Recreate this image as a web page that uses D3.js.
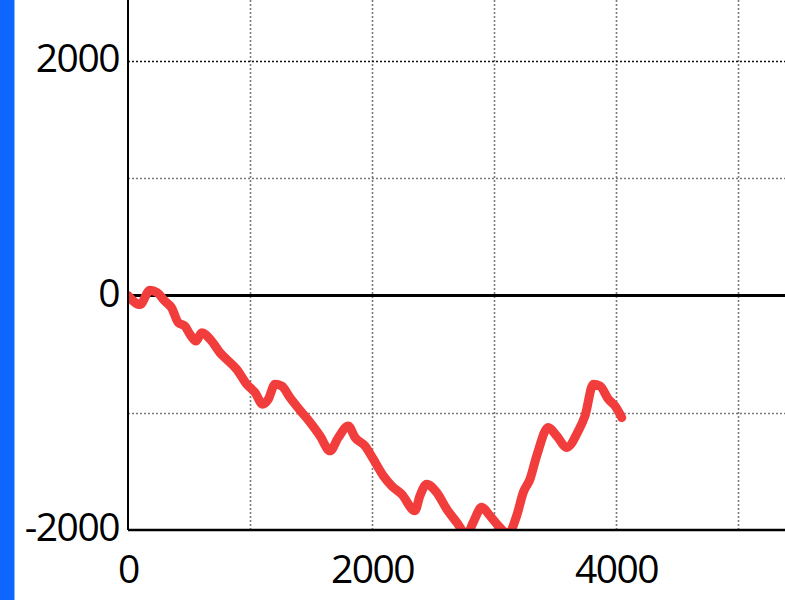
<!DOCTYPE html>
<html>
<head>
<meta charset="utf-8">
<script src="https://cdn.jsdelivr.net/npm/d3@7"></script>
<style>
  html, body { margin: 0; padding: 0; background: #fff; overflow: hidden; }
  svg { display: block; }
</style>
</head>
<body>
<svg id="chart" width="785" height="600"></svg>
<script>
// ---- data ----
const xValues = [0, 98, 180, 238, 303, 358, 412, 467, 508, 557, 604, 686, 754, 809, 891, 973, 1041, 1104, 1150, 1205, 1260, 1328, 1410, 1492, 1574, 1656, 1724, 1806, 1861, 1943, 2011, 2093, 2161, 2243, 2352, 2393, 2448, 2530, 2612, 2694, 2776, 2830, 2899, 2967, 3035, 3117, 3186, 3240, 3295, 3350, 3445, 3514, 3596, 3691, 3746, 3814, 3869, 3938, 3992, 4047];
const yValues = [0, -77, 45, 26, -49, -105, -232, -261, -332, -389, -317, -389, -488, -545, -630, -757, -828, -928, -885, -757, -772, -871, -979, -1081, -1197, -1325, -1211, -1112, -1211, -1283, -1396, -1538, -1623, -1694, -1836, -1708, -1609, -1679, -1821, -1934, -2040, -1934, -1807, -1878, -1963, -2030, -1878, -1679, -1566, -1368, -1126, -1197, -1296, -1155, -1027, -757, -772, -885, -942, -1041];
const xTicks = [0, 2000, 4000];
const yTicks = [-2000, 0, 2000];
const xGrid = [1000, 2000, 3000, 4000, 5000];
const yGrid = [-1000, 1000, 2000];

const svg = d3.select("#chart");
const W = 785, H = 600;

const x = d3.scaleLinear().domain([0, 5000]).range([128, 738]);
const y = d3.scaleLinear().domain([-2000, 2000]).range([530, 61]);
const fmt = d => String(d); // plain hyphen-minus like the reference

// blue bar at left
svg.append("rect").attr("x", 0).attr("y", 0).attr("width", 14.5).attr("height", H).attr("fill", "#0d66ff");

// clip for plot area
svg.append("clipPath").attr("id", "plotclip")
  .append("rect").attr("x", x(0)).attr("y", 0).attr("width", W - x(0)).attr("height", y(-2000));

// vertical gridlines
svg.append("g").selectAll("line").data(xGrid).join("line")
  .attr("x1", d => Math.round(x(d)) + 0.5).attr("x2", d => Math.round(x(d)) + 0.5)
  .attr("y1", 0).attr("y2", y(-2000))
  .attr("stroke", "#7a7a7a").attr("stroke-width", 1.6).attr("stroke-dasharray", "2,2");

// horizontal gridlines
svg.append("g").selectAll("line").data(yGrid).join("line")
  .attr("x1", x(0)).attr("x2", W)
  .attr("y1", d => Math.round(y(d)) + 0.5).attr("y2", d => Math.round(y(d)) + 0.5)
  .attr("stroke", d => d === 2000 ? "#111" : "#7a7a7a").attr("stroke-width", 1.6).attr("stroke-dasharray", "2,2");

// zero line
svg.append("line").attr("x1", x(0)).attr("x2", W)
  .attr("y1", y(0)).attr("y2", y(0)).attr("stroke", "#000").attr("stroke-width", 2.8);

// data line
const pts = xValues.map((v, i) => [v, yValues[i]]);
const line = d3.line().x(d => x(d[0])).y(d => y(d[1])).curve(d3.curveMonotoneX);
svg.append("path").datum(pts)
  .attr("clip-path", "url(#plotclip)")
  .attr("d", line)
  .attr("fill", "none").attr("stroke", "#f23d3d").attr("stroke-width", 9)
  .attr("stroke-linejoin", "round").attr("stroke-linecap", "round");

// axes
const fontFamily = "'Open Sans', 'Noto Sans', sans-serif";
const yAxis = svg.append("g").attr("transform", `translate(${x(0)},0)`)
  .call(d3.axisLeft(y).tickValues(yTicks).tickSize(0).tickPadding(9).tickFormat(fmt));
yAxis.select(".domain").attr("d", `M0,0V${y(-2000)}`).attr("stroke", "#000").attr("stroke-width", 2);
yAxis.selectAll("text").attr("font-family", fontFamily).attr("font-size", 39)
  .attr("letter-spacing", "-1.5px").attr("fill", "#000").attr("dy", "0.27em");

const xAxis = svg.append("g").attr("transform", `translate(0,${y(-2000)})`)
  .call(d3.axisBottom(x).tickValues(xTicks).tickSize(0).tickPadding(25).tickFormat(fmt));
xAxis.select(".domain").attr("d", `M${x(0)},0H${W}`).attr("stroke", "#000").attr("stroke-width", 2.5);
xAxis.selectAll("text").attr("font-family", fontFamily).attr("font-size", 39)
  .attr("letter-spacing", "-1.5px").attr("fill", "#000").attr("dy", "0.71em");
</script>
</body>
</html>
